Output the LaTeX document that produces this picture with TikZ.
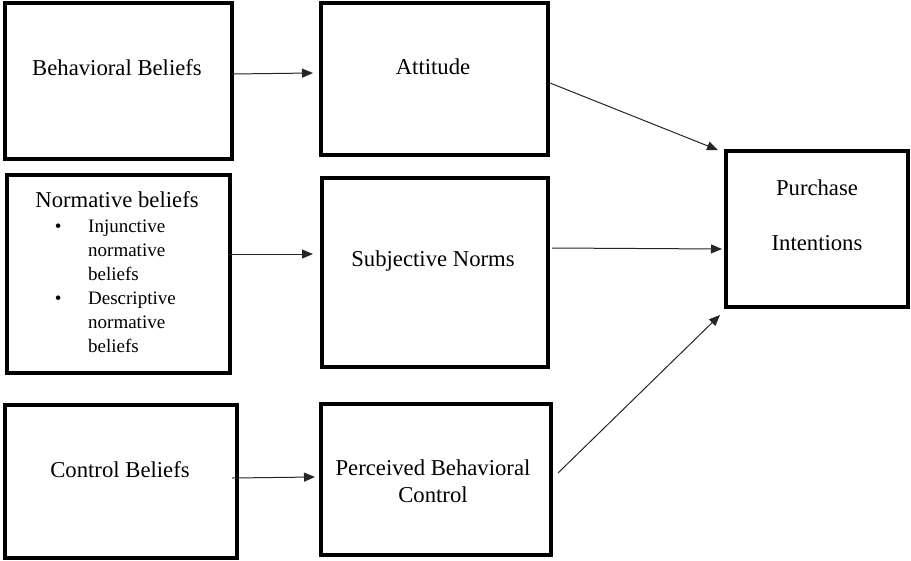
\documentclass[tikz,border=0pt]{standalone}
\usepackage{fontspec}
\setmainfont{Liberation Serif}
\usetikzlibrary{arrows.meta,calc}
\begin{document}
\begin{tikzpicture}[x=1pt,y=-1pt,
 box/.style={draw,line width=3.5pt,outer sep=0pt,inner sep=0pt,rectangle},
 lbl/.style={font=\fontsize{22.7}{27}\selectfont,inner sep=0pt,align=center},
 small/.style={font=\fontsize{19}{24}\selectfont,inner sep=0pt,align=left},
 arr/.style={line width=1pt,draw=black!85,-{Triangle[length=11pt,width=9pt]}}]
\useasboundingbox (0,0) rectangle (911,560);
% boxes
\node[box,minimum width=227pt,minimum height=156pt] (b1) at (118.5,81) {};
\node[box,minimum width=227pt,minimum height=152pt] (b2) at (434.5,79) {};
\node[box,minimum width=223pt,minimum height=198pt] (b3) at (118.5,274) {};
\node[box,minimum width=226pt,minimum height=189pt] (b4) at (435,272.5) {};
\node[box,minimum width=232pt,minimum height=153pt] (b5) at (121,481.5) {};
\node[box,minimum width=230pt,minimum height=151pt] (b6) at (436,479.5) {};
\node[box,minimum width=182pt,minimum height=156pt] (b7) at (817,229) {};
% texts
\node[lbl] (t1) at (117,68) {Behavioral Beliefs};
\node[lbl] (t2) at (433,67) {Attitude};
\node[lbl] (t3) at (117,200) {Normative beliefs};
\node[small,anchor=north west] (t3b) at (54.6,220) {\makebox[33.4pt][l]{\textbullet}Injunctive\\\hspace*{33.4pt}normative\\\hspace*{33.4pt}beliefs\\\makebox[33.4pt][l]{\textbullet}Descriptive\\\hspace*{33.4pt}normative\\\hspace*{33.4pt}beliefs};
\node[lbl] (t4) at (433,261) {Subjective Norms};
\node[lbl] (t5) at (120,470) {Control Beliefs};
\node[lbl] (t6) at (433,481.5) {Perceived Behavioral\\Control};
\node[lbl] (t7) at (817,215.5) {Purchase\\[28pt]Intentions};
% arrows
\draw[arr] ([yshift=7pt]b1.east) -- ([xshift=-8pt,yshift=6pt]b2.west);
\draw[arr] ([xshift=-2pt,yshift=20pt]b3.east) -- ([xshift=-9pt,yshift=18.5pt]b4.west);
\draw[arr] ([xshift=-5pt,yshift=3.5pt]b5.east) -- ([xshift=-6pt,yshift=2.5pt]b6.west);
\draw[arr] ([xshift=2pt,yshift=-4pt]b2.east) -- ([xshift=-8pt,yshift=1pt]b7.north west);
\draw[arr] ([xshift=4pt,yshift=24.5pt]b4.east) -- ([xshift=-4pt,yshift=-20pt]b7.west);
\draw[arr] ([xshift=7pt,yshift=6.5pt]b6.east) -- ([xshift=-6pt,yshift=-8pt]b7.south west);
\end{tikzpicture}
\end{document}
